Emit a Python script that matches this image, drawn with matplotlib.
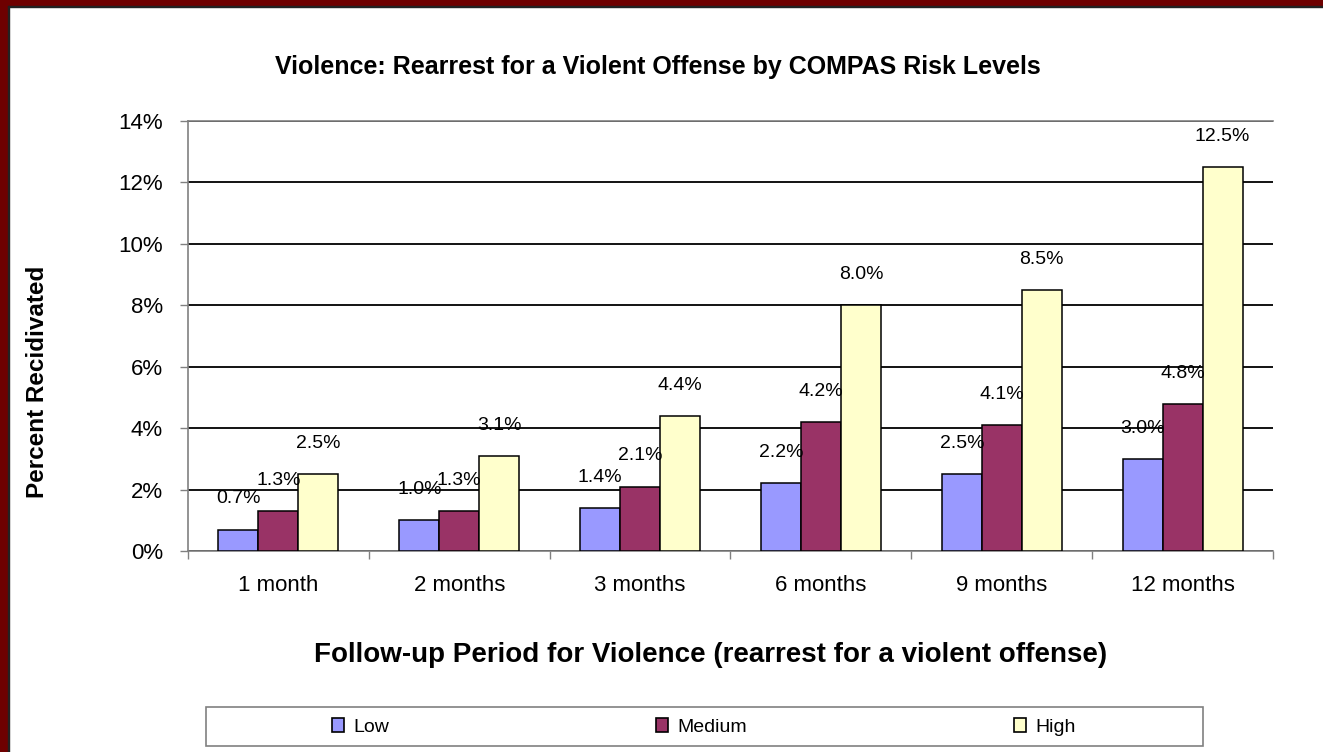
import matplotlib
matplotlib.use("Agg")
import matplotlib.pyplot as plt
import numpy as np
from matplotlib.patches import Rectangle, Patch

plt.rcParams['font.family'] = ['Liberation Sans', 'DejaVu Sans']

periods = ["1 month", "2 months", "3 months", "6 months", "9 months", "12 months"]
low = [0.7, 1.0, 1.4, 2.2, 2.5, 3.0]
medium = [1.3, 1.3, 2.1, 4.2, 4.1, 4.8]
high = [2.5, 3.1, 4.4, 8.0, 8.5, 12.5]
levels = ["Low", "Medium", "High"]
colors = ["#9999FF", "#993366", "#FFFFCC"]

W, H = 1323, 752
fig = plt.figure(figsize=(W / 100, H / 100), dpi=100)
fig.patch.set_facecolor("white")

# dark red frame on top and left edges
fig.patches.append(Rectangle((0, 0), 8 / W, 1, transform=fig.transFigure, color="#6E0000", zorder=0))
fig.patches.append(Rectangle((0, 1 - 6 / H), 1, 6 / H, transform=fig.transFigure, color="#6E0000", zorder=0))
fig.patches.append(Rectangle((8 / W, 0), 1.2 / W, 1 - 6 / H, transform=fig.transFigure, color="#222222", zorder=0))
fig.patches.append(Rectangle((8 / W, 1 - 7.2 / H), 1, 1.2 / H, transform=fig.transFigure, color="#222222", zorder=0))

ax = fig.add_axes([188 / W, 201 / H, (1273 - 188) / W, (551 - 121) / H])

x = np.arange(len(periods))
bw = 0.221
for i, (vals, c) in enumerate(zip([low, medium, high], colors)):
    bars = ax.bar(x + (i - 1) * bw, vals, width=bw, color=c, edgecolor="black", linewidth=1.1, zorder=3)
    for b, v in zip(bars, vals):
        ax.annotate(f"{v:.1f}%", (b.get_x() + b.get_width() / 2, v), xytext=(0, 22),
                    textcoords="offset points", ha="center", va="center", fontsize=14, zorder=4)

ax.set_xlim(-0.5, len(periods) - 0.5)
ax.set_ylim(0, 14)
ax.set_yticks(range(0, 15, 2))
ax.set_yticklabels([f"{t}%" for t in range(0, 15, 2)], fontsize=16)
ax.set_xticks(x)
ax.set_xticklabels(periods, fontsize=16)
ax.set_xticks(np.arange(-0.5, len(periods)), minor=True)
ax.tick_params(axis="x", which="major", length=0, pad=17)
ax.tick_params(axis="x", which="minor", length=6, width=1, color="#808080", direction="out")
ax.tick_params(axis="y", length=6, width=1, color="#808080", direction="out", pad=12)

ax.yaxis.grid(True, color="black", linewidth=1.3)
ax.set_axisbelow(True)
for s in ["left", "bottom", "top"]:
    ax.spines[s].set_color("#808080")
    ax.spines[s].set_linewidth(1.2)
ax.spines["right"].set_visible(False)

fig.text(658 / W, 1 - 67 / H, "Violence: Rearrest for a Violent Offense by COMPAS Risk Levels",
         ha="center", va="center", fontsize=18, fontweight="bold")
fig.text(711 / W, 1 - 655 / H, "Follow-up Period for Violence (rearrest for a violent offense)",
         ha="center", va="center", fontsize=20, fontweight="bold")
fig.text(38 / W, 1 - 382 / H, "Percent Recidivated", rotation=90,
         ha="center", va="center", fontsize=17.5, fontweight="bold")

# legend box
fig.patches.append(Rectangle((206 / W, 1 - 746 / H), (1203 - 206) / W, 39 / H, transform=fig.transFigure,
                             facecolor="white", edgecolor="#808080", linewidth=1.2, zorder=1))
handles = [Patch(facecolor=c, edgecolor="black", linewidth=1.2) for c in colors]
fig.legend(handles, levels, ncol=3, loc="center", bbox_to_anchor=(704 / W, 1 - 727 / H),
           frameon=False, fontsize=14, handlelength=0.62, handleheight=0.7, handletextpad=0.5,
           columnspacing=13.7)

fig.savefig("out.png", dpi=100)
